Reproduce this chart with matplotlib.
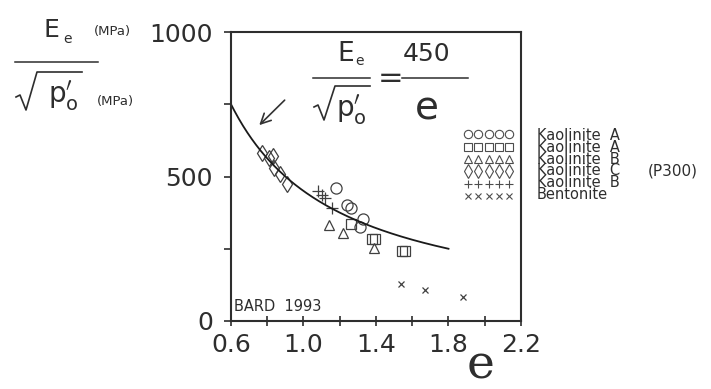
import numpy as np
import matplotlib.pyplot as plt

# data (void ratio e, Ee/sqrt(p'o) in MPa)
circ_e = [1.18, 1.24, 1.26, 1.33, 1.31]
circ_E = [461, 403, 392, 354, 326]
sq_e = [1.26, 1.38, 1.395, 1.545, 1.56]
sq_E = [334, 285, 285, 242, 242]
tri_e = [1.14, 1.22, 1.39]
tri_E = [331, 306, 254]
dia_e = [0.77, 0.81, 0.83, 0.84, 0.87, 0.91]
dia_E = [582, 564, 570, 530, 507, 475]
plus_e = [1.08, 1.10, 1.12, 1.16]
plus_E = [449, 437, 426, 392]
x_e = [1.54, 1.67, 1.88]
x_E = [128, 108, 82]

legend_markers = ['o', 's', '^', 'd', '+', 'x']
legend_labels = ['Kaolinite  A', 'Kaolinite  A', 'Kaolinite  B',
                 'Kaolinite  C', 'Kaolinite  B', 'Bentonite']

W, H = 711, 389
ink = '0.18'


def P(x, y):
    # pixel position -> figure fraction
    return x / W, 1 - y / H


def ftext(x, y, s, size, **kw):
    fx, fy = P(x, y)
    kw.setdefault('ha', 'center')
    kw.setdefault('va', 'center')
    return fig.text(fx, fy, s, fontsize=size, color=ink, **kw)


def fline(xs, ys, lw=1.1):
    fx = [x / W for x in xs]
    fy = [1 - y / H for y in ys]
    fig.lines.append(plt.Line2D(fx, fy, transform=fig.transFigure,
                                color=ink, lw=lw))


def sqrt_p(x0, y_top, y_bot, x_end, px, py, psize):
    # radical sign with p'_o under it
    fline([x0, x0 + 4, x0 + 10, x0 + 21, x_end],
          [y_bot - 13, y_bot - 15, y_bot, y_top, y_top], lw=1.2)
    ftext(px, py, r'$\mathregular{p}^{\prime}_{\mathregular{o}}$', psize,
          ha='left')


fig = plt.figure(figsize=(W / 100, H / 100), dpi=100)
ax = fig.add_axes([231 / W, 1 - 321 / H, 290 / W, 289 / H])

mk = dict(mfc='none', mec='0.25', ls='none', mew=0.9)
ax.plot(circ_e, circ_E, 'o', ms=8, **mk)
ax.plot(sq_e, sq_E, 's', ms=6.5, **mk)
ax.plot(tri_e, tri_E, '^', ms=7, **mk)
ax.plot(dia_e, dia_E, 'd', ms=8, **mk)
ax.plot(plus_e, plus_E, '+', ms=8, **mk)
ax.plot(x_e, x_E, 'x', ms=5, **mk)

# fitted curve Ee/sqrt(p'o) = 450/e
ec = np.linspace(0.6, 1.8, 200)
ax.plot(ec, 450 / ec, color='0.1', lw=1.3)

ax.annotate('', xy=(0.745, 671), xytext=(0.907, 771),
            arrowprops=dict(arrowstyle='->', color='0.2', lw=1.2,
                            mutation_scale=18))

ax.set_xlim(0.6, 2.2)
ax.set_ylim(0, 1000)
ax.set_xticks(np.arange(0.6, 2.21, 0.2))
ax.set_xticklabels(['0.6', '', '1.0', '', '1.4', '', '1.8', '', '2.2'])
ax.set_yticks([0, 250, 500, 750, 1000])
ax.set_yticklabels(['0', '', '500', '', '1000'])
ax.tick_params(axis='x', direction='inout', length=7, width=1.2,
               labelsize=18, colors=ink, pad=5)
ax.tick_params(axis='y', direction='out', length=5, width=1.2,
               labelsize=18, colors=ink, pad=8)
for s in ax.spines.values():
    s.set_linewidth(1.5)
    s.set_color(ink)

ax.text(0.01, 0.025, 'BARD  1993', transform=ax.transAxes, fontsize=10.5,
        color=ink, va='bottom')

# equation inside the plot: Ee / sqrt(p'o) = 450 / e
ftext(346, 54, 'E', 19)
ftext(360, 61, 'e', 10)
ftext(427, 54, '450', 18)
fline([313, 370], [78, 78])
fline([402, 468], [78, 78])
ftext(391, 79, '=', 22)
sqrt_p(314, 86, 120, 370, 336, 110, 20)
ftext(427, 108, 'e', 28)

# y label as fraction, outside left
ftext(51, 30, 'E', 18)
ftext(67, 39, 'e', 10)
ftext(112, 32, '(MPa)', 9.5)
fline([15, 98], [62, 62])
sqrt_p(16, 72, 110, 82, 48, 96, 20)
ftext(115, 101, '(MPa)', 9.5)

# x label
ftext(481, 366, 'e', 34, family='DejaVu Serif')

# legend drawn by hand, right of the frame
rows_y = [134, 146.5, 159, 171, 183.5, 196]
for i, m in enumerate(legend_markers):
    yf = 1 - rows_y[i] / H
    xs = np.linspace(468, 509, 5) / W
    fig.lines.append(plt.Line2D(xs, [yf] * 5, transform=fig.transFigure,
                                marker=m, ls='none',
                                ms={'x': 5, 'd': 7}.get(m, 6),
                                mfc='none', mec='0.3', mew=0.8))
ftext(537, (rows_y[0] + rows_y[-1]) / 2, '\n'.join(legend_labels), 10.5,
      ha='left', linespacing=0.72)
ftext(648, rows_y[3], '(P300)', 11, ha='left')

fig.savefig('out.png', dpi=100)
